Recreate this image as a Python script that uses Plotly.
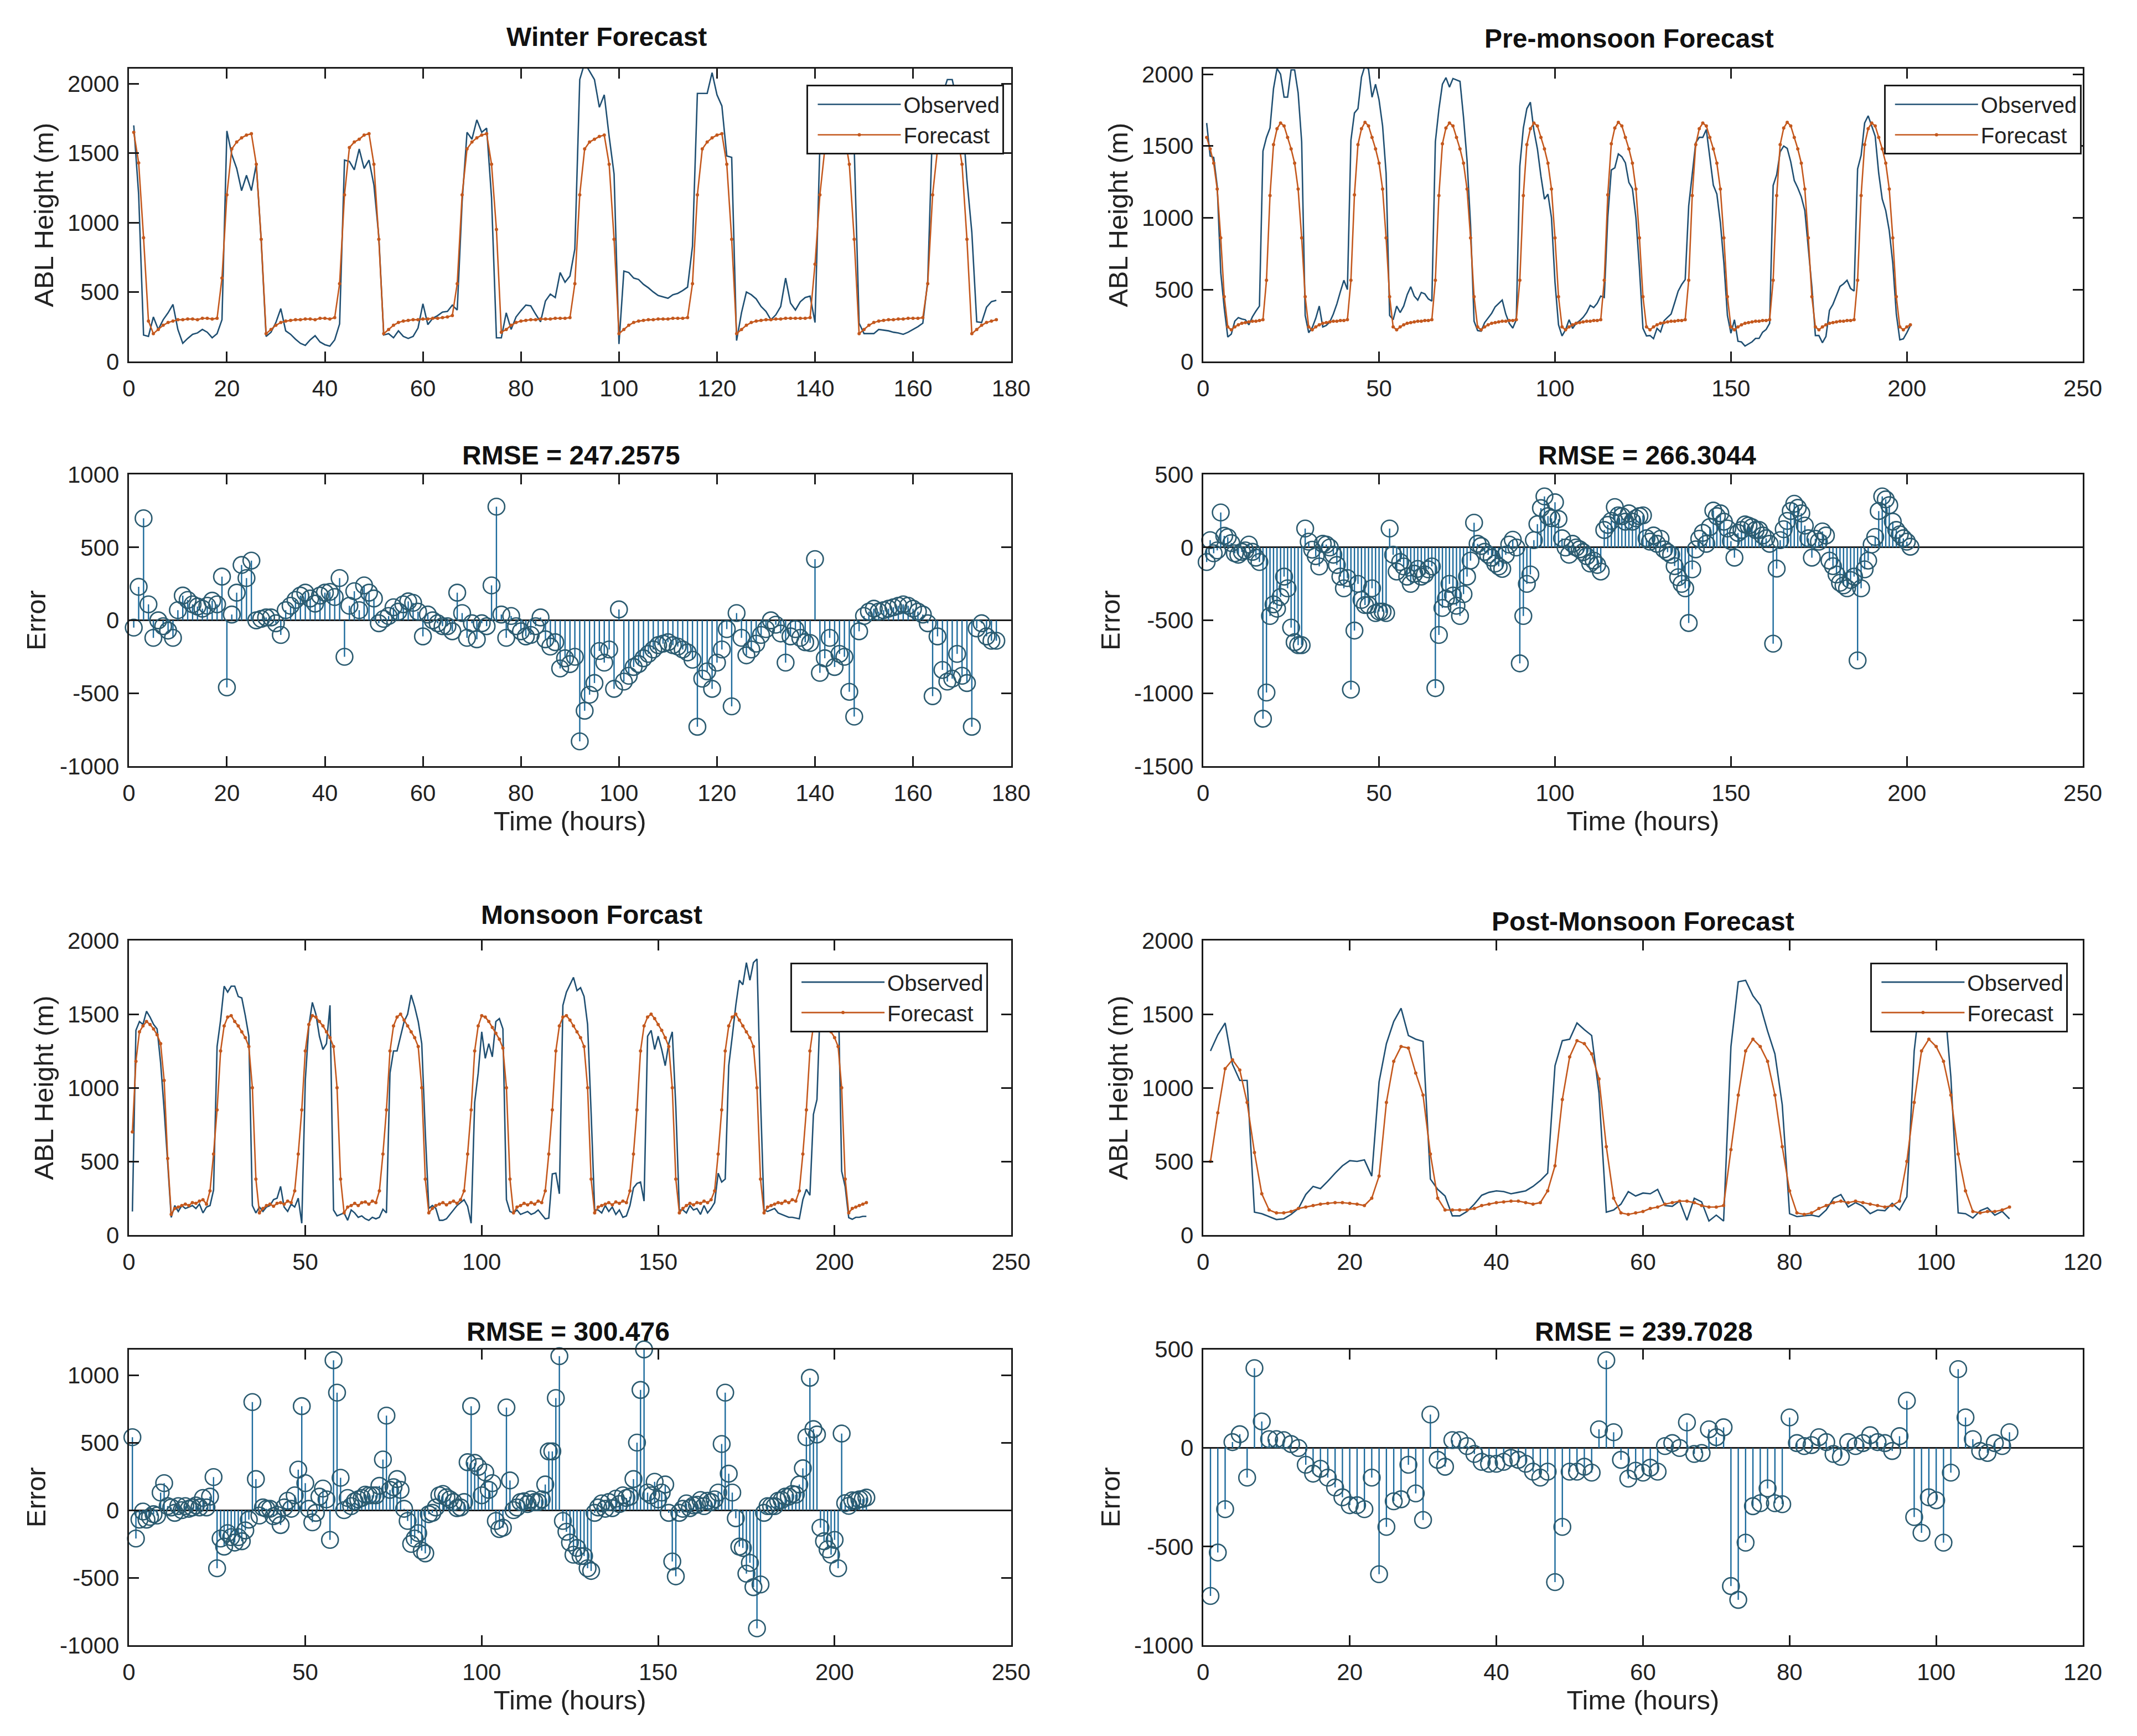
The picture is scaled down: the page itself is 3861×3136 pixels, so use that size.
import plotly.graph_objects as go

# hourly ABL height (m); t = 1..N hours

winter_obs = [
    1700, 1200, 190, 180, 320, 230, 300, 350, 410, 230,
    130, 165, 195, 205, 230, 210, 170, 200, 300, 1660,
    1490, 1390, 1230, 1340, 1230, 1420, 870, 180, 210, 280,
    380, 220, 195, 160, 130, 115, 155, 185, 140, 120,
    110, 155, 270, 1450, 1440, 1380, 1530, 1390, 1450, 1270,
    900, 190, 200, 170, 220, 180, 165, 180, 240, 415,
    265, 310, 330, 355, 360, 405, 370, 1150, 1650, 1600,
    1740, 1650, 1680, 1180, 170, 170, 350, 230, 320, 365,
    405, 400, 340, 285, 435, 485, 460, 640, 570, 615,
    810, 2030, 2150, 2090, 2030, 1830, 1920, 1620, 1350, 125,
    650, 640, 600, 590, 555, 530, 500, 475, 465, 455,
    480, 490, 510, 535, 830, 1930, 1930, 1930, 2080, 1920,
    1840, 1480, 1470, 150, 350, 500, 480, 450, 395, 360,
    300, 335, 395, 600, 420, 370, 430, 460, 470, 280,
    1560, 1790, 1700, 1930, 1860, 1890, 1910, 1540, 275, 200,
    200, 200, 230, 225, 220, 210, 205, 195, 210, 230,
    250, 275, 580, 1720, 1640, 1920, 2030, 2030, 1870, 1800,
    1310, 930, 285, 280, 390, 430, 440,
]
winter_fc = [
    1650, 1430, 890, 290, 200, 230, 260, 280, 290, 300,
    300, 305, 305, 300, 310, 310, 305, 310, 600, 1200,
    1530, 1580, 1610, 1630, 1640, 1420, 880, 200, 230, 260,
    280, 290, 295, 300, 300, 305, 305, 300, 310, 310,
    305, 315, 560, 1200, 1540, 1580, 1600, 1630, 1640, 1420,
    880, 200, 230, 260, 280, 290, 295, 300, 300, 305,
    305, 310, 310, 315, 320, 330, 560, 1200, 1530, 1580,
    1610, 1630, 1640, 1420, 950, 210, 230, 260, 280, 290,
    295, 300, 300, 305, 305, 305, 310, 310, 310, 315,
    560, 1200, 1530, 1580, 1600, 1620, 1630, 1420, 880, 200,
    230, 260, 280, 290, 295, 300, 300, 305, 305, 305,
    310, 310, 310, 315, 560, 1200, 1530, 1580, 1610, 1630,
    1640, 1420, 880, 200, 230, 260, 280, 290, 295, 300,
    300, 305, 305, 310, 310, 310, 310, 310, 315, 700,
    1200, 1530, 1580, 1610, 1630, 1640, 1420, 880, 200, 230,
    260, 280, 290, 295, 300, 300, 305, 305, 310, 310,
    310, 315, 560, 1200, 1530, 1580, 1610, 1630, 1640, 1420,
    880, 200, 230, 260, 280, 290, 300,
]

premonsoon_obs = [
    1660, 1430, 1420, 1220, 620, 370, 170, 190, 280, 305,
    295, 290, 255, 310, 350, 385, 1465, 1560, 1625, 1900,
    2040, 2000, 1840, 1840, 2030, 2030, 1870, 1530, 320, 200,
    235, 300, 385, 240, 250, 275, 330, 400, 485, 565,
    500, 1540, 1730, 1760, 1980, 2060, 2035, 1840, 1930, 1820,
    1640, 1310, 320, 290, 385, 340, 385, 465, 520, 455,
    427, 480, 470, 435, 420, 1530, 1755, 1930, 1976, 1910,
    1970, 1960, 1950, 1700, 1400, 950, 280, 215, 210, 270,
    305, 335, 380, 405, 427, 330, 265, 232, 290, 1360,
    1625, 1760, 1805, 1610, 1480, 1290, 1130, 1165, 1000, 550,
    255, 177, 220, 290, 230, 265, 283, 307, 340, 390,
    375, 405, 455, 445, 1005, 1333, 1348, 1445, 1425, 1383,
    1246, 1203, 1000, 645, 230, 177, 180, 158, 230, 205,
    283, 307, 330, 408, 489, 535, 570, 1083, 1305, 1523,
    1560, 1560, 1615, 1420, 1227, 1165, 966, 683, 320, 196,
    290, 140, 135, 107, 120, 136, 160, 160, 203, 222,
    265, 1225, 1300, 1460, 1500, 1483, 1390, 1260, 1208, 1146,
    1050, 797, 520, 180, 180, 130, 173, 355, 398, 460,
    522, 540, 565, 508, 490, 1340, 1435, 1660, 1710, 1640,
    1568, 1310, 1130, 1050, 910, 683, 330, 150, 157, 200,
    250,
]
premonsoon_fc = [
    1560, 1480, 1380, 1200, 860, 450, 240, 220, 240, 255,
    265, 270, 275, 280, 280, 285, 290, 565, 1155, 1510,
    1620, 1660, 1640, 1560, 1480, 1380, 1200, 860, 450, 240,
    220, 240, 255, 265, 270, 275, 280, 280, 285, 285,
    290, 565, 1160, 1510, 1620, 1665, 1640, 1560, 1480, 1380,
    1200, 860, 450, 240, 220, 240, 255, 265, 270, 275,
    280, 280, 285, 285, 290, 565, 1155, 1515, 1625, 1660,
    1640, 1560, 1480, 1380, 1200, 860, 450, 240, 220, 240,
    255, 265, 270, 275, 280, 280, 285, 285, 290, 565,
    1155, 1510, 1620, 1660, 1640, 1560, 1480, 1380, 1200, 860,
    450, 240, 220, 240, 255, 265, 270, 275, 280, 280,
    285, 285, 290, 565, 1160, 1515, 1625, 1665, 1640, 1560,
    1480, 1380, 1200, 860, 450, 240, 220, 240, 255, 265,
    270, 275, 280, 280, 285, 285, 290, 565, 1155, 1510,
    1620, 1660, 1640, 1560, 1480, 1380, 1200, 860, 450, 240,
    220, 240, 255, 265, 270, 275, 280, 280, 285, 285,
    290, 565, 1155, 1510, 1625, 1665, 1640, 1560, 1480, 1380,
    1200, 860, 450, 240, 220, 240, 255, 265, 270, 275,
    280, 280, 285, 285, 290, 565, 1155, 1510, 1620, 1660,
    1640, 1560, 1480, 1380, 1200, 860, 450, 240, 220, 240,
    255,
]

monsoon_obs = [
    160, 1390, 1450, 1430, 1520, 1480, 1430, 1400, 1170, 850,
    490, 120, 200, 160, 200, 180, 190, 200, 180, 210,
    150, 190, 200, 305, 1280, 1460, 1690, 1650, 1690, 1690,
    1620, 1610, 1490, 1350, 200, 150, 190, 160, 190, 200,
    240, 250, 330, 190, 160, 210, 190, 250, 80, 1050,
    1420, 1580, 1500, 1350, 1260, 1300, 1560, 170, 130, 140,
    150, 100, 170, 150, 120, 130, 110, 100, 120, 110,
    120, 175, 150, 1100, 1250, 1250, 1350, 1450, 1500, 1630,
    1550, 1450, 1300, 700, 180, 200, 180, 100, 100, 110,
    140, 170, 200, 220, 240, 195, 80, 900, 1100, 1380,
    1200, 1300, 1210, 1450, 1470, 1400, 240, 160, 150, 170,
    140, 150, 160, 140, 150, 170, 140, 110, 115, 415,
    420, 280, 1560, 1650, 1700, 1750, 1660, 1680, 1620, 1430,
    830, 170, 170, 150, 200, 160, 190, 140, 170, 120,
    130, 200, 320, 350, 360, 230, 1350, 1390, 1260, 1350,
    1260, 1150, 1300, 1380, 870, 170, 170, 150, 200, 170,
    180, 140, 200, 150, 180, 220, 420, 360, 380, 1150,
    1350, 1560, 1730, 1700, 1850, 1730, 1850, 1875, 930, 170,
    160, 170, 180, 150, 140, 130, 120, 120, 115, 110,
    240, 310, 270, 820, 920, 1620, 1690, 1710, 1710, 1560,
    1710, 433, 328, 118, 107, 120, 120, 127, 127,
]
monsoon_fc = [
    700, 1180, 1380, 1420, 1450, 1430, 1400, 1360, 1300, 1050,
    520, 140, 180, 190, 200, 210, 200, 220, 215, 230,
    240, 210, 300, 550, 850, 1250, 1420, 1480, 1490, 1450,
    1420, 1380, 1340, 1280, 1000, 380, 150, 180, 200, 210,
    195, 215, 220, 210, 230, 220, 300, 550, 850, 1250,
    1430, 1490, 1480, 1450, 1420, 1380, 1340, 1280, 1000, 380,
    150, 190, 200, 215, 200, 220, 225, 210, 230, 220,
    300, 550, 850, 1250, 1420, 1480, 1500, 1460, 1420, 1380,
    1340, 1280, 1000, 380, 150, 180, 200, 210, 220, 205,
    220, 230, 215, 240, 300, 550, 850, 1250, 1420, 1490,
    1480, 1450, 1410, 1370, 1330, 1270, 1000, 380, 150, 190,
    200, 215, 205, 220, 210, 230, 220, 300, 550, 850,
    1250, 1420, 1480, 1490, 1460, 1420, 1380, 1340, 1280, 1000,
    380, 150, 190, 200, 210, 220, 205, 225, 215, 230,
    220, 300, 550, 850, 1250, 1420, 1480, 1500, 1470, 1430,
    1390, 1340, 1280, 1000, 380, 150, 180, 200, 215, 205,
    220, 215, 230, 220, 240, 300, 550, 850, 1250, 1420,
    1480, 1500, 1460, 1420, 1380, 1340, 1280, 1000, 380, 150,
    190, 200, 210, 220, 215, 230, 220, 240, 230, 300,
    550, 850, 1250, 1420, 1480, 1490, 1460, 1420, 1380, 1340,
    1280, 1000, 380, 150, 180, 190, 200, 210, 220,
]

postmonsoon_obs = [
    1250, 1360, 1440, 1160, 1050, 1050, 155, 145, 125, 105,
    110, 140, 180, 275, 330, 315, 365, 420, 470, 505,
    500, 510, 400, 1040, 1300, 1450, 1540, 1355, 1330, 1315,
    380, 310, 265, 130, 130, 160, 210, 270, 290, 300,
    295, 280, 290, 300, 330, 370, 420, 1150, 1320, 1330,
    1440, 1395, 1355, 965, 155, 170, 210, 295, 265, 285,
    280, 310, 200, 195, 230, 100, 250, 225, 95, 135,
    95, 1280, 1720, 1730, 1625, 1560, 1385, 1230, 885, 145,
    125, 130, 135, 125, 170, 250, 275, 190, 220, 195,
    145, 170, 165, 215, 170, 260, 1250, 1680, 1580, 1545,
    1660, 1075, 150, 145, 115, 165, 185, 135, 160, 110,
]
postmonsoon_fc = [
    500, 830, 1130, 1190, 1120, 900, 560, 280, 170, 150,
    150, 160, 180, 190, 200, 210, 215, 220, 220, 215,
    210, 200, 250, 400, 900, 1180, 1280, 1270, 1100, 950,
    550, 250, 170, 170, 170, 170, 180, 200, 210, 220,
    225, 230, 230, 220, 210, 220, 300, 470, 920, 1210,
    1320, 1300, 1230, 1060, 600, 250, 150, 140, 150, 160,
    180, 190, 210, 220, 230, 230, 220, 200, 190, 190,
    200, 580, 950, 1250, 1330, 1280, 1180, 950, 600, 300,
    150, 140, 150, 180, 200, 220, 230, 220, 230, 220,
    210, 200, 190, 200, 230, 500, 900, 1250, 1330, 1280,
    1180, 950, 550, 300, 160, 150, 160, 160, 170, 190,
]

season_titles = ["Winter Forecast", "Pre-monsoon Forecast", "Monsoon Forcast", "Post-Monsoon Forecast"]
rmse_titles = ["RMSE = 247.2575", "RMSE = 266.3044", "RMSE = 300.476", "RMSE = 239.7028"]

FONT = "Liberation Sans, Arial, sans-serif"
INK = "#1a1a1a"
OBS_COLOR = "#1f4f72"
FC_COLOR = "#c4581d"
STEM_COLOR = "#1b6a9c"
CIRCLE_COLOR = "#2b5b70"

# panel geometry (paper fractions)
col_x = {"L": [0.0558, 0.4737], "R": [0.5647, 0.9814]}
top_y = {1: [0.7987, 0.9700], 2: [0.2878, 0.4600]}
err_y = {1: [0.5620, 0.7325], 2: [0.0479, 0.2209]}

seasons = [
    dict(obs=winter_obs, fc=winter_fc, col="L", row=1, xmax=180, xdt=20,
         ytop=2110, erange=[-1000, 1000], etick=[-1000, -500, 0, 500, 1000],
         title_xy=(0.2822, 0.9884), rmse_xy=(0.2654, 0.7437),
         legend_xy=(0.4705, 0.9605)),
    dict(obs=premonsoon_obs, fc=premonsoon_fc, col="R", row=1, xmax=250, xdt=50,
         ytop=2040, erange=[-1500, 500], etick=[-1500, -1000, -500, 0, 500],
         title_xy=(0.7666, 0.9876), rmse_xy=(0.7750, 0.7437),
         legend_xy=(0.9808, 0.9605)),
    dict(obs=monsoon_obs, fc=monsoon_fc, col="L", row=2, xmax=250, xdt=50,
         ytop=2000, erange=[-1000, 1190], etick=[-1000, -500, 0, 500, 1000],
         title_xy=(0.2751, 0.4751), rmse_xy=(0.2638, 0.2313),
         legend_xy=(0.4628, 0.4472)),
    dict(obs=postmonsoon_obs, fc=postmonsoon_fc, col="R", row=2, xmax=120, xdt=20,
         ytop=2000, erange=[-1000, 500], etick=[-1000, -500, 0, 500],
         title_xy=(0.7731, 0.4712), rmse_xy=(0.7734, 0.2313),
         legend_xy=(0.9744, 0.4472)),
]

axis_common = dict(
    showline=True, linecolor=INK, linewidth=3, mirror="ticks",
    ticks="inside", ticklen=18, tickwidth=3, tickcolor=INK,
    showgrid=False, zeroline=False,
    tickfont=dict(family=FONT, size=42, color="#222222"),
)
title_font = dict(family=FONT, size=49, color="#222222")

fig = go.Figure()
layout = dict(width=3861, height=3136, paper_bgcolor="white", plot_bgcolor="white",
              margin=dict(l=0, r=0, t=0, b=0), showlegend=True, annotations=[])

for k, s in enumerate(seasons):
    n_top = 2 * k + 1
    n_err = 2 * k + 2
    xa_top = "x" if n_top == 1 else f"x{n_top}"
    ya_top = "y" if n_top == 1 else f"y{n_top}"
    xa_err, ya_err = f"x{n_err}", f"y{n_err}"
    lg = "legend" if k == 0 else f"legend{k + 1}"

    hours = list(range(1, len(s["obs"]) + 1))
    error = [f - o for f, o in zip(s["fc"], s["obs"])]

    fig.add_trace(go.Scatter(x=hours, y=s["obs"], mode="lines", name="Observed",
                             line=dict(color=OBS_COLOR, width=2.6),
                             xaxis=xa_top, yaxis=ya_top, legend=lg))
    fig.add_trace(go.Scatter(x=hours, y=s["fc"], mode="lines+markers", name="Forecast",
                             line=dict(color=FC_COLOR, width=2.6),
                             marker=dict(color=FC_COLOR, size=6),
                             xaxis=xa_top, yaxis=ya_top, legend=lg))

    # stem plot: vertical line from zero to each error value, open circle on top
    sx, sy = [], []
    for h, e in zip(hours, error):
        sx += [h, h, None]
        sy += [0, e, None]
    fig.add_trace(go.Scatter(x=sx, y=sy, mode="lines", showlegend=False,
                             line=dict(color=STEM_COLOR, width=2.4),
                             xaxis=xa_err, yaxis=ya_err))
    fig.add_trace(go.Scatter(x=hours, y=error, mode="markers", showlegend=False,
                             marker=dict(symbol="circle-open", size=30, color=CIRCLE_COLOR,
                                         line=dict(width=2.6, color=CIRCLE_COLOR)),
                             cliponaxis=False, xaxis=xa_err, yaxis=ya_err))

    xticks = list(range(0, s["xmax"] + 1, s["xdt"]))
    key_top = "xaxis" if n_top == 1 else f"xaxis{n_top}"
    keyy_top = "yaxis" if n_top == 1 else f"yaxis{n_top}"

    layout[key_top] = dict(axis_common, domain=col_x[s["col"]], anchor=ya_top,
                           range=[0, s["xmax"]], tickvals=xticks, ticklabelstandoff=10)
    layout[keyy_top] = dict(axis_common, domain=top_y[s["row"]], anchor=xa_top,
                            range=[0, s["ytop"]], tickvals=[0, 500, 1000, 1500, 2000],
                            ticklabelstandoff=6,
                            title=dict(text="ABL Height (m)", font=title_font, standoff=10))
    layout[f"xaxis{n_err}"] = dict(axis_common, domain=col_x[s["col"]], anchor=ya_err,
                                   range=[0, s["xmax"]], tickvals=xticks, ticklabelstandoff=10,
                                   title=dict(text="Time (hours)", font=title_font, standoff=8))
    # MATLAB prints a plain hyphen for negative ticks
    layout[f"yaxis{n_err}"] = dict(axis_common, domain=err_y[s["row"]], anchor=xa_err,
                                   range=s["erange"], tickvals=s["etick"],
                                   ticktext=[str(v) for v in s["etick"]], ticklabelstandoff=6,
                                   zeroline=True, zerolinecolor=INK, zerolinewidth=3,
                                   title=dict(text="Error", font=title_font, standoff=10))

    layout[lg] = dict(x=s["legend_xy"][0], y=s["legend_xy"][1], xanchor="right", yanchor="top",
                      bgcolor="white", bordercolor=INK, borderwidth=3, itemwidth=150,
                      indentation=12,
                      font=dict(family=FONT, size=40, color="#222222"), tracegroupgap=0)

    layout["annotations"].append(dict(
        text="<b>" + season_titles[k] + "</b>", x=s["title_xy"][0], y=s["title_xy"][1],
        xref="paper", yref="paper", showarrow=False, xanchor="center", yanchor="middle",
        font=dict(family=FONT, size=48, color="#111111")))
    layout["annotations"].append(dict(
        text="<b>" + rmse_titles[k] + "</b>", x=s["rmse_xy"][0], y=s["rmse_xy"][1],
        xref="paper", yref="paper", showarrow=False, xanchor="center", yanchor="middle",
        font=dict(family=FONT, size=48, color="#111111")))

fig.update_layout(**layout)
fig.write_html("out.html")
